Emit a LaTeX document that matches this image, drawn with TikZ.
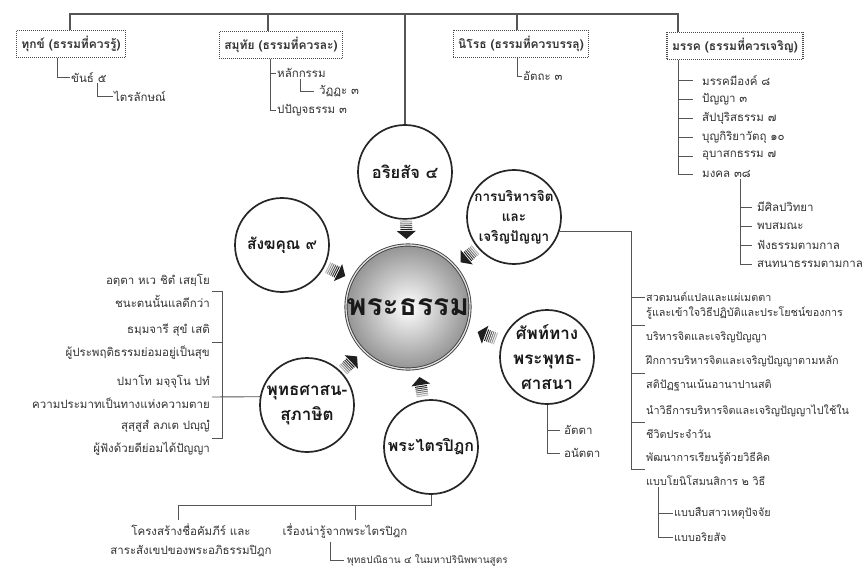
\documentclass[tikz,border=0pt]{standalone}
\usepackage{fontspec}
\setmainfont[Script=Thai]{Loma}
\usetikzlibrary{calc}
\definecolor{ink}{HTML}{333333}
\definecolor{wire}{HTML}{555555}
\newcommand\setfs[2]{\fontsize{#1}{#2}\selectfont}
\tikzset{
  wire/.style={draw=wire, line width=0.9pt},
  topwire/.style={draw=wire, line width=1.6pt},
  titlebox/.style={draw=black!70, dash pattern=on 1pt off 1pt, line width=1.2pt, text=ink,
     font=\bfseries\setfs{12}{14}, inner xsep=5pt, minimum height=27pt},
  item/.style={anchor=west, text=ink, font=\setfs{11.5}{13}, inner xsep=1pt, inner ysep=1pt},
  pair/.style={item, align=left, font=\setfs{10.8}{24}},
  lpair/.style={anchor=east, align=right, text=ink, font=\setfs{11.5}{23}, inner xsep=2pt},
  sat/.style={circle, draw=black!85, line width=1.7pt, fill=white, minimum size=94pt, inner sep=0pt},
  satlabel/.style={align=center, text=black!90, inner sep=0pt},
  hub/.style={circle, minimum size=124pt, inner sep=0pt, draw=black!75, double=gray!25,
     double distance=1.3pt, line width=0.9pt, inner color=white, outer color=black!42},
  pics/flowarrow/.style={code={
     \foreach \p/\g in {0/28,1/40,2/52,3/64,4/76,5/88}
        \draw[black!\g, line width=1pt] ({-11+1.9*\p},-6) -- ({-11+1.9*\p},6);
     \fill[black!88] (0,-9.5) -- (8,0) -- (0,9.5) -- cycle;
  }},
}
\begin{document}
\begin{tikzpicture}[x=1pt,y=-1pt]
\useasboundingbox (0,0) rectangle (862,567);
\fill[white] (0,0) rectangle (862,567);

% central idea and its six sources
\node[hub] (dhamma) at (408,307) {};
\node[satlabel, font=\bfseries\setfs{30}{34}] (dhamma-t) at (dhamma) {พระธรรม};

\node[sat] (ariya) at (405,172) {};
\node[satlabel, font=\bfseries\setfs{16.5}{20}] (ariya-t) at (ariya) {อริยสัจ ๔};
\node[sat] (jit) at (514,217) {};
\node[satlabel, font=\bfseries\setfs{13.5}{20}] (jit-t) at (jit) {การบริหารจิต\\และ\\เจริญปัญญา};
\node[sat] (sap) at (547,357) {};
\node[satlabel, font=\bfseries\setfs{17}{25}] (sap-t) at (sap) {ศัพท์ทาง\\พระพุทธ-\\ศาสนา};
\node[sat] (trai) at (431,447) {};
\node[satlabel, font=\bfseries\setfs{16}{20}] (trai-t) at (trai) {พระไตรปิฎก};
\node[sat] (phut) at (307,405) {};
\node[satlabel, font=\bfseries\setfs{17}{25}] (phut-t) at (phut) {พุทธศาสน-\\สุภาษิต};
\node[sat] (sangha) at (282,245) {};
\node[satlabel, font=\bfseries\setfs{15.5}{20}] (sangha-t) at (sangha) {สังฆคุณ ๙};

% striped arrows pointing into the centre
\pic[rotate=-89]  at ($(dhamma)!76pt!(ariya)$)  {flowarrow};
\pic[rotate=-140] at ($(dhamma)!77pt!(jit)$)    {flowarrow};
\pic[rotate=160]  at ($(dhamma)!82pt!(sap)$)    {flowarrow};
\pic[rotate=99]   at ($(dhamma)!79pt!(trai)$)   {flowarrow};
\pic[rotate=44]   at ($(dhamma)!79pt!(phut)$)   {flowarrow};
\pic[rotate=-26]  at ($(dhamma)!78pt!(sangha)$) {flowarrow};

% four noble truths across the top
\node[titlebox] (b1) at (71,44)  {ทุกข์ (ธรรมที่ควรรู้)};
\node[titlebox] (b2) at (281,45) {สมุทัย (ธรรมที่ควรละ)};
\node[titlebox] (b3) at (521,44) {นิโรธ (ธรรมที่ควรบรรลุ)};
\node[titlebox] (b4) at (735,46) {มรรค (ธรรมที่ควรเจริญ)};

\coordinate (tl) at (70,14);
\coordinate (tr) at (678,14);
\coordinate (j2) at (268,14);
\coordinate (j4) at (517,14);
\draw[topwire] (tl |- b1.north) -- (tl) -- (tr) -- (tr |- b4.north);
\draw[topwire] (j2) -- (j2 |- b2.north);
\draw[topwire] (ariya.north |- tr) -- (ariya.north);
\draw[topwire] (j4) -- (j4 |- b3.north);

% dukkha
\node[item] (k5) at (70,77) {ขันธ์ ๕};
\node[item] (tri) at (113,96) {ไตรลักษณ์};
\coordinate (d1) at (57,0);
\coordinate (d1b) at (97,0);
\draw[wire] (b1.south -| d1) |- (k5.west);
\draw[wire] (k5.south -| d1b) |- (tri.west);

% samudaya
\node[item] (hk) at (276,73) {หลักกรรม};
\node[item] (wt) at (318,91) {วัฏฏะ ๓};
\node[item] (pp) at (276,110) {ปปัญจธรรม ๓};
\coordinate (d2) at (270,0);
\coordinate (d2b) at (300,0);
\draw[wire] (b2.south -| d2) |- (pp.west);
\draw[wire] (hk.west -| d2) -- (hk.west);
\draw[wire, shorten >=4pt] (hk.south -| d2b) |- (wt.west);

% nirodha
\node[item] (at3) at (522,76) {อัตถะ ๓};
\draw[wire] (b3.south -| j4) |- (at3.west);

% magga
\coordinate (d4) at (678,0);
\node[item] (m1) at (701,80)  {มรรคมีองค์ ๘};
\node[item] (m2) at (701,99)  {ปัญญา ๓};
\node[item] (m3) at (701,118) {สัปปุริสธรรม ๗};
\node[item] (m4) at (701,137) {บุญกิริยาวัตถุ ๑๐};
\node[item] (m5) at (701,156) {อุบาสกธรรม ๗};
\node[item] (m6) at (701,174) {มงคล ๓๘};
\draw[wire, shorten >=8pt] (b4.south -| d4) |- (m6.west);
\foreach \m in {m1,m2,m3,m4,m5}
  \draw[wire, shorten >=8pt] (\m.west -| d4) -- (\m.west);

\coordinate (d5) at (740,0);
\node[item] (n1) at (756,207) {มีศิลปวิทยา};
\node[item] (n2) at (756,226) {พบสมณะ};
\node[item] (n3) at (756,245) {ฟังธรรมตามกาล};
\node[item] (n4) at (756,264) {สนทนาธรรมตามกาล};
\draw[wire, shorten >=4pt] (m6.south -| d5) |- (n4.west);
\foreach \n in {n1,n2,n3}
  \draw[wire, shorten >=4pt] (\n.west -| d5) -- (\n.west);

% meditation and wisdom
\coordinate (rx) at (631,0);
\node[item, font=\setfs{10.8}{13}] (q1) at (645,297) {สวดมนต์แปลและแผ่เมตตา};
\node[pair] (q2) at (645,325) {รู้และเข้าใจวิธีปฏิบัติและประโยชน์ของการ\\บริหารจิตและเจริญปัญญา};
\node[pair] (q3) at (645,373) {ฝึกการบริหารจิตและเจริญปัญญาตามหลัก\\สติปัฏฐานเน้นอานาปานสติ};
\node[pair] (q4) at (645,422) {นำวิธีการบริหารจิตและเจริญปัญญาไปใช้ใน\\ชีวิตประจำวัน};
\node[pair] (q5) at (645,469) {พัฒนาการเรียนรู้ด้วยวิธีคิด\\แบบโยนิโสมนสิการ ๒ วิธี};
\draw[wire] (jit.-18) -| (rx |- q5.west) -- (q5.west);
\foreach \q in {q1,q2,q3,q4}
  \draw[wire] (rx |- \q.west) -- (\q.west);

\coordinate (sx) at (658,0);
\node[item, font=\setfs{10.8}{13}] (y1) at (673,513) {แบบสืบสาวเหตุปัจจัย};
\node[item, font=\setfs{10.8}{13}] (y2) at (673,537) {แบบอริยสัจ};
\draw[wire] (q5.south -| sx) |- (y2.west);
\draw[wire] (sx |- y1.west) -- (y1.west);

% Buddhist terms
\node[item] (att) at (563,430) {อัตตา};
\node[item] (ant) at (563,453) {อนัตตา};
\draw[wire, shorten >=3pt] (sap.south) |- (ant.west);
\draw[wire, shorten >=3pt] (sap.south |- att.west) -- (att.west);

% Tipitaka
\coordinate (tb1) at (178,505);
\coordinate (tb2) at (355,505);
\node[anchor=north, align=center, text=ink, font=\setfs{11.5}{19}] (s1) at (191,520)
  {โครงสร้างชื่อคัมภีร์ และ\\สาระสังเขปของพระอภิธรรมปิฎก};
\node[anchor=north, text=ink, font=\setfs{11.5}{13}] (s2) at (345,520) {เรื่องน่ารู้จากพระไตรปิฎก};
\node[item, font=\setfs{10}{12}] (s3) at (346,560) {พุทธปณิธาน ๔ ในมหาปรินิพพานสูตร};
\draw[wire] (trai.south) |- (tb1) -- (tb1 |- s1.north);
\draw[wire] (tb2) -- (tb2 |- s2.north);
\coordinate (sx3) at (330,0);
\draw[wire, shorten >=2pt] (s2.south -| sx3) |- (s3.west);

% Buddhist proverbs
\coordinate (bx) at (222,0);
\node[lpair] (e1) at (212,291) {อตฺตา หเว ชิตํ เสยฺโย\\ชนะตนนั้นแลดีกว่า};
\node[lpair] (e2) at (212,342) {ธมฺมจารี สุขํ เสติ\\ผู้ประพฤติธรรมย่อมอยู่เป็นสุข};
\node[lpair] (e3) at (212,392) {ปมาโท มจฺจุโน ปทํ\\ความประมาทเป็นทางแห่งความตาย};
\node[lpair] (e4) at (212,438) {สุสฺสูสํ ลภเต ปญฺญํ\\ผู้ฟังด้วยดีย่อมได้ปัญญา};
\coordinate (e3tip) at (212,397);
\draw[wire] (e1.east) -| (bx |- e4.east) -- (e4.east);
\draw[wire] (e2.east) -- (bx |- e2.east);
\draw[wire] (e3tip) -- (phut.170);
\end{tikzpicture}
\end{document}
